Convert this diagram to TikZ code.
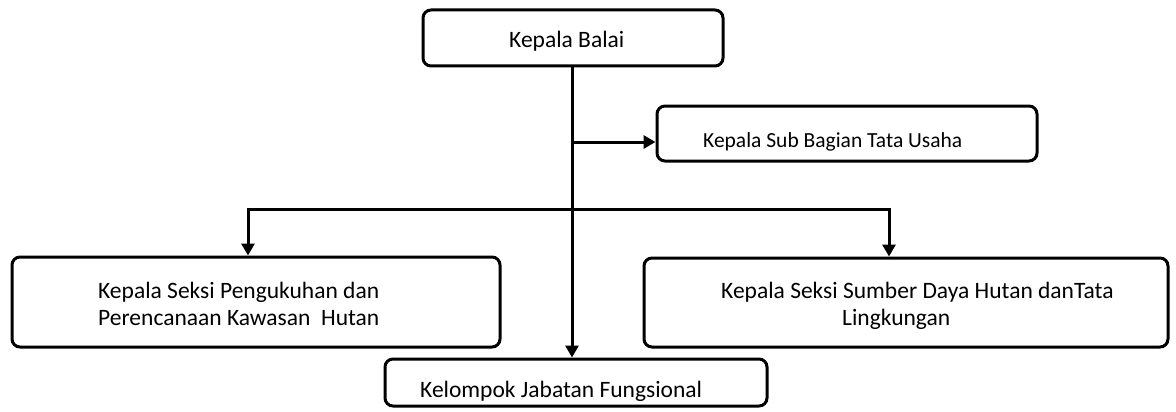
\documentclass[tikz,border=0pt]{standalone}
\usepackage{fontspec}
\setmainfont{Carlito}
\usetikzlibrary{arrows.meta}
\tikzset{
  box/.style={draw=black, line width=3pt, rounded corners=8pt, fill=white, inner sep=0pt},
  lbl/.style={anchor=base west, inner sep=0pt, font=\fontsize{23.5}{27}\selectfont},
  smalllbl/.style={lbl, font=\fontsize{21.5}{25}\selectfont},
  conn/.style={line width=3pt, -{Triangle[width=13pt,length=12pt]}},
}
\begin{document}
\begin{tikzpicture}[x=1pt,y=-1pt]
\useasboundingbox (0,0) rectangle (1176,412);
% boxes
\node[box, minimum width=300pt, minimum height=56pt] (top) at (573,38) {};
\node[box, minimum width=380pt, minimum height=55pt] (sub) at (847,133.5) {};
\node[box, minimum width=488pt, minimum height=90pt] (left) at (256,302) {};
\node[box, minimum width=524pt, minimum height=89pt] (right) at (906,302.5) {};
\node[box, minimum width=382pt, minimum height=47pt] (kel) at (576,382.5) {};
% texts
\node[lbl] (ttop) at (509,48) {Kepala Balai};
\node[smalllbl] (tsub) at (703,147) {Kepala Sub Bagian Tata Usaha};
\node[lbl] (tl1) at (98,298) {Kepala Seksi Pengukuhan dan};
\node[lbl] (tl2) at (98,325) {Perencanaan Kawasan\ \ Hutan};
\node[lbl] (tr1) at (721,298) {Kepala Seksi Sumber Daya Hutan danTata};
\node[lbl] (tr2) at (842,325) {Lingkungan};
\node[lbl] (tkel) at (420,397) {Kelompok Jabatan Fungsional};
% junctions
\coordinate (j1) at (572,142);
\coordinate (j2) at (572,209);
\coordinate (bl) at (248,209);
\coordinate (br) at (889,209);
% connectors
\draw[conn] (top.south -| j1) -- (j1 |- kel.north);
\draw[conn] (j1) -- (j1 -| sub.west);
\draw[conn] (j2) -- (bl) -- (bl |- left.north);
\draw[conn] (j2) -- (br) -- (br |- right.north);
\end{tikzpicture}
\end{document}
